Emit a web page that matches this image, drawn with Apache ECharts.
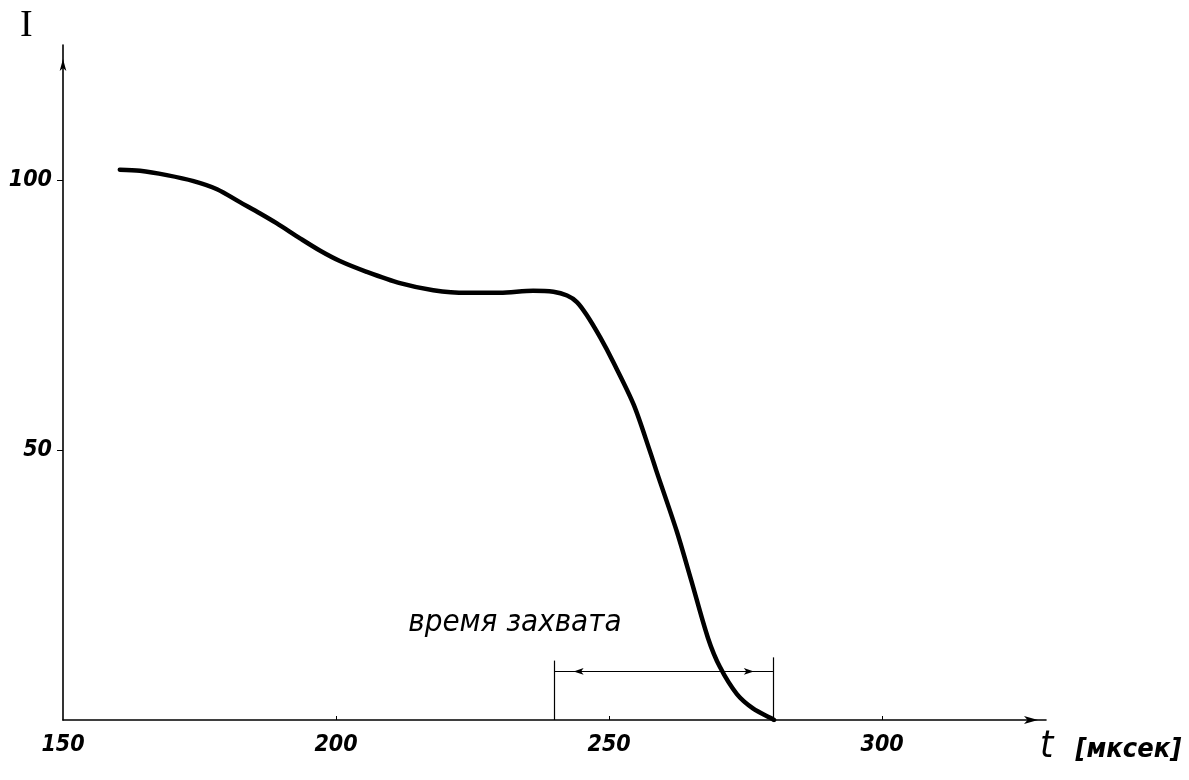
<!DOCTYPE html>
<html>
<head>
<meta charset="utf-8">
<script src="https://cdn.jsdelivr.net/npm/echarts@6/dist/echarts.min.js"></script>
<style>
  html, body { margin: 0; padding: 0; background: #ffffff; }
  #chart { width: 1189px; height: 780px; }
</style>
</head>
<body>
<div id="chart"></div>
<script>
// Current I versus time t (µs)
const timeUs = [160.4, 164.1, 169.0, 173.9, 178.2, 182.4, 186.1, 189.1, 193.4, 197.1, 200.7,
                205.6, 211.7, 217.8, 223.9, 230.0, 236.1, 239.8, 242.3, 244.1, 245.9, 248.4,
                250.8, 254.5, 257.5, 258.7, 262.4, 265.0, 268.1, 270.3, 273.4, 276.4, 279.5, 280.2];
const intensity = [101.9, 101.7, 100.9, 99.8, 98.3, 95.9, 93.8, 92.0, 89.2, 86.9, 85.0,
                   83.0, 80.9, 79.6, 79.1, 79.1, 79.5, 79.3, 78.6, 77.4, 75.0, 70.8,
                   66.2, 58.4, 49.7, 46.0, 34.9, 26.0, 15.2, 9.8, 4.8, 2.1, 0.4, 0];

// Axis tick values
const xTicks = [150, 200, 250, 300];
const yTicks = [50, 100];

// Capture-time interval and the arrow drawn across it
const captureWindow = [240, 280];
const captureArrowHeads = [243.5, 276.5];
const captureArrowLevel = 9;
const captureBracketTop = 11;
const captureLabel = 'время захвата';

const hand = "'DejaVu Sans Condensed', 'DejaVu Sans', sans-serif";

const chart = echarts.init(document.getElementById('chart'), null, { renderer: 'canvas' });

const lineStyleThin = { color: '#000', width: 1.2, type: 'solid' };

chart.setOption({
  backgroundColor: '#ffffff',
  animation: false,
  grid: { left: 63, right: 143, top: 45, bottom: 60 },
  xAxis: {
    type: 'value',
    min: 150,
    max: 330,
    interval: 50,
    splitLine: { show: false },
    axisLine: {
      show: true,
      lineStyle: { color: '#000', width: 1.6 },
      symbol: ['none', 'arrow'],
      symbolSize: [6, 14],
      symbolOffset: [0, -8]
    },
    axisTick: {
      show: true, inside: true, length: 4,
      customValues: xTicks.slice(1),
      lineStyle: { color: '#000', width: 1 }
    },
    axisLabel: {
      margin: 14,
      color: '#000',
      fontFamily: hand,
      fontStyle: 'italic',
      fontWeight: 'bold',
      fontSize: 23,
      customValues: xTicks,
      formatter: v => String(v)
    }
  },
  yAxis: {
    type: 'value',
    min: 0,
    max: 125,
    interval: 50,
    splitLine: { show: false },
    axisLine: {
      show: true,
      lineStyle: { color: '#000', width: 1.6 },
      symbol: ['none', 'arrow'],
      symbolSize: [5, 12],
      symbolOffset: [0, -14]
    },
    axisTick: {
      show: true, length: 6,
      customValues: yTicks,
      lineStyle: { color: '#000', width: 1 }
    },
    axisLabel: {
      margin: 11,
      color: '#000',
      fontFamily: hand,
      fontStyle: 'italic',
      fontWeight: 'bold',
      fontSize: 23,
      customValues: yTicks,
      formatter: v => String(v)
    }
  },
  series: [
    {
      type: 'line',
      data: timeUs.map((t, i) => [t, intensity[i]]),
      smooth: 0.3,
      showSymbol: false,
      lineStyle: { color: '#000', width: 4.5, cap: 'round', join: 'round' },
      markLine: {
        silent: true,
        symbol: 'none',
        label: { show: false },
        lineStyle: lineStyleThin,
        data: [
          [{ coord: [captureWindow[0], 0] }, { coord: [captureWindow[0], captureBracketTop] }],
          [{ coord: [captureWindow[1], 0] }, { coord: [captureWindow[1], captureBracketTop + 0.6] }],
          [{ coord: [captureWindow[0], captureArrowLevel] }, { coord: [captureWindow[1], captureArrowLevel] }],
          [
            { coord: [captureArrowHeads[0], captureArrowLevel], symbol: 'arrow', symbolSize: [5, 10] },
            { coord: [captureArrowHeads[1], captureArrowLevel], symbol: 'arrow', symbolSize: [5, 10] }
          ]
        ]
      }
    }
  ]
});

// Axis names and the interval caption, placed from the axis scales
const origin = chart.convertToPixel({ gridIndex: 0 }, [150, 0]);
const xEnd = chart.convertToPixel({ gridIndex: 0 }, [330, 0]);
const yEnd = chart.convertToPixel({ gridIndex: 0 }, [150, 125]);
const capPos = chart.convertToPixel({ gridIndex: 0 }, [captureWindow[0], captureArrowLevel]);

chart.setOption({
  graphic: [
    {
      type: 'text',
      left: origin[0] - 43,
      top: yEnd[1] - 38,
      style: {
        text: 'I',
        fill: '#000',
        font: "38px 'Liberation Serif', 'DejaVu Serif', serif"
      }
    },
    {
      type: 'text',
      left: xEnd[0] - 6,
      top: origin[1] + 8,
      style: {
        text: '{t|t}{u|[мксек]}',
        rich: {
          t: { fill: '#000', fontSize: 38, fontFamily: hand, fontStyle: 'italic' },
          u: { fill: '#000', fontSize: 27, fontFamily: hand, fontStyle: 'italic', fontWeight: 'bold', padding: [6, 0, 0, 22] }
        }
      }
    },
    {
      type: 'text',
      x: capPos[0] + 67,
      y: capPos[1] - 64,
      style: {
        text: captureLabel,
        fill: '#000',
        align: 'right',
        font: "italic 31px " + hand
      }
    }
  ]
});
</script>
</body>
</html>
